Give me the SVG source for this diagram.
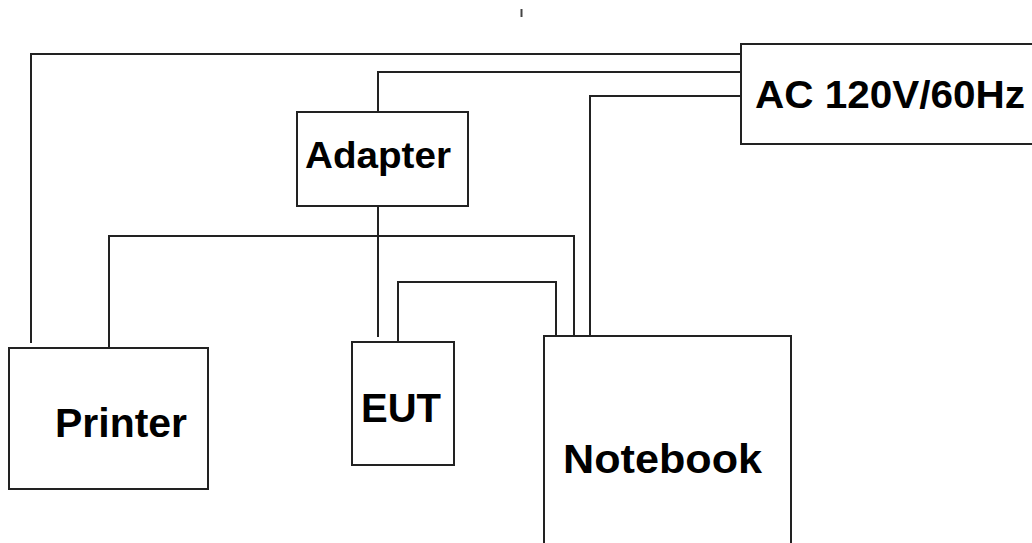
<svg xmlns="http://www.w3.org/2000/svg" width="1032" height="543" viewBox="0 0 1032 543">
  <style>
    .box { fill: #ffffff; stroke: #222222; stroke-width: 2; }
    .wire { fill: none; stroke: #222222; stroke-width: 2; }
    .label { font-family: "Liberation Sans", Arial, sans-serif; font-weight: bold; fill: #000000; }
  </style>
  <rect width="1032" height="543" fill="#ffffff"/>

  <!-- small stray tick at the top -->
  <line x1="521.5" y1="9" x2="521.5" y2="17" stroke="#444444" stroke-width="2"/>

  <g id="connectors">
    <!-- mains to printer -->
    <polyline class="wire" points="741,54 31,54 31,343"/>
    <!-- mains to adapter -->
    <polyline class="wire" points="741,72 378,72 378,112"/>
    <!-- mains to notebook -->
    <polyline class="wire" points="741,96 590,96 590,336"/>
    <!-- adapter to EUT -->
    <line class="wire" x1="378" y1="206" x2="378" y2="337"/>
    <!-- printer to notebook -->
    <polyline class="wire" points="109,348 109,236 574,236 574,336"/>
    <!-- EUT to notebook -->
    <polyline class="wire" points="398,342 398,282 556,282 556,336"/>
  </g>

  <g id="ac-source">
    <rect class="box" x="741" y="44" width="300" height="100"/>
    <text class="label" x="755" y="108" font-size="39" textLength="270" lengthAdjust="spacingAndGlyphs">AC 120V/60Hz</text>
  </g>

  <g id="adapter">
    <rect class="box" x="297" y="112" width="171" height="94"/>
    <text class="label" x="305" y="168" font-size="37" textLength="146" lengthAdjust="spacingAndGlyphs">Adapter</text>
  </g>

  <g id="printer">
    <rect class="box" x="9" y="348" width="199" height="141"/>
    <text class="label" x="55" y="437" font-size="40" textLength="132" lengthAdjust="spacingAndGlyphs">Printer</text>
  </g>

  <g id="eut">
    <rect class="box" x="352" y="342" width="102" height="123"/>
    <text class="label" x="361" y="422" font-size="41" textLength="80" lengthAdjust="spacingAndGlyphs">EUT</text>
  </g>

  <g id="notebook">
    <rect class="box" x="544" y="336" width="247" height="220"/>
    <text class="label" x="563" y="473" font-size="41" textLength="199" lengthAdjust="spacingAndGlyphs">Notebook</text>
  </g>
</svg>
